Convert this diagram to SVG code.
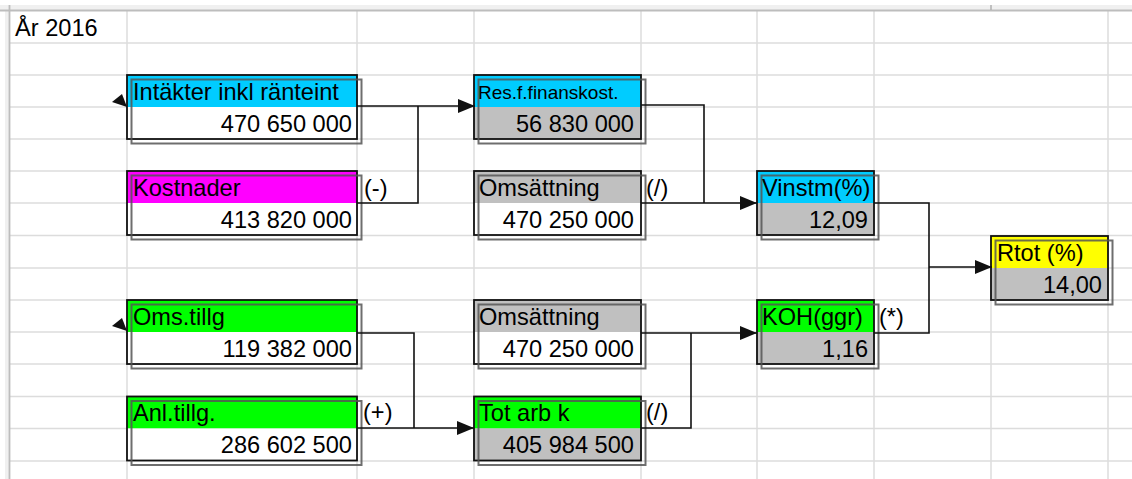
<svg xmlns="http://www.w3.org/2000/svg" width="1132" height="479" viewBox="0 0 1132 479">
<style>
.grid line{stroke:#dcdcdc;stroke-width:1.5}
.frame{fill:none;stroke:#111;stroke-width:1.8}
.shadow{fill:none;stroke:#555;stroke-width:2;opacity:0.85}
.t{font-family:"Liberation Sans",Arial,sans-serif;font-size:23.6px;fill:#000}
.sm{font-size:19px}
.v{text-anchor:end}
.conn{fill:none;stroke:#111;stroke-width:1.6}
.cyan{fill:#00ccff}.mag{fill:#ff00ff}.grn{fill:#00ff00}.yel{fill:#ffff00}.gry{fill:#c0c0c0}.wht{fill:#ffffff}
</style>
<defs>
<marker id="arr" viewBox="0 0 17 14" refX="17" refY="7" markerWidth="17" markerHeight="14" markerUnits="userSpaceOnUse" orient="auto">
<path d="M0,0 L17,7 L0,14 z" fill="#111"/>
</marker>
</defs>
<rect x="0" y="0" width="1132" height="479" fill="#fff"/>
<g id="sheet" class="grid">
<rect x="0" y="5" width="1132" height="5" fill="#f0f0f0" stroke="none"/>
<rect x="5" y="5" width="4.5" height="474" fill="#f0f0f0" stroke="none"/>
<line x1="10" y1="43" x2="1132" y2="43"/>
<line x1="10" y1="75" x2="1132" y2="75"/>
<line x1="10" y1="107" x2="1132" y2="107"/>
<line x1="10" y1="139" x2="1132" y2="139"/>
<line x1="10" y1="171" x2="1132" y2="171"/>
<line x1="10" y1="203" x2="1132" y2="203"/>
<line x1="10" y1="235.5" x2="1132" y2="235.5"/>
<line x1="10" y1="268" x2="1132" y2="268"/>
<line x1="10" y1="300" x2="1132" y2="300"/>
<line x1="10" y1="332" x2="1132" y2="332"/>
<line x1="10" y1="364" x2="1132" y2="364"/>
<line x1="10" y1="396.5" x2="1132" y2="396.5"/>
<line x1="10" y1="428.5" x2="1132" y2="428.5"/>
<line x1="10" y1="461" x2="1132" y2="461"/>
<line x1="127" y1="10" x2="127" y2="479"/>
<line x1="357" y1="10" x2="357" y2="479"/>
<line x1="474" y1="10" x2="474" y2="479"/>
<line x1="641" y1="10" x2="641" y2="479"/>
<line x1="757" y1="10" x2="757" y2="479"/>
<line x1="874" y1="10" x2="874" y2="479"/>
<line x1="991" y1="236" x2="991" y2="479"/>
<line x1="1108" y1="10" x2="1108" y2="479"/>
<line x1="0" y1="10.5" x2="1132" y2="10.5" style="stroke:#bdbdbd;stroke-width:1.8"/>
<line x1="9.5" y1="5" x2="9.5" y2="479" style="stroke:#bdbdbd;stroke-width:1.8"/>
<line x1="991" y1="5" x2="991" y2="10" style="stroke:#b0b0b0;stroke-width:1.5"/>
<text class="t" x="15" y="36">År 2016</text>
</g>
<g id="n-intakter">
<rect class="cyan" x="127" y="75" width="230" height="32"/><rect class="wht" x="127" y="107" width="230" height="32"/>
<rect class="frame" x="127" y="75" width="230" height="64"/><rect class="shadow" x="131.5" y="79.5" width="230" height="64"/>
<text class="t" x="133" y="100">Intäkter inkl ränteint</text><text class="t v" x="352" y="132">470 650 000</text>
<polygon points="112,102 122,94 127,107" fill="#111"/>
</g>
<g id="n-kostnader">
<rect class="mag" x="127" y="171" width="230" height="32"/><rect class="wht" x="127" y="203" width="230" height="32"/>
<rect class="frame" x="127" y="171" width="230" height="64"/><rect class="shadow" x="131.5" y="175.5" width="230" height="64"/>
<text class="t" x="133" y="196">Kostnader</text><text class="t v" x="352" y="228">413 820 000</text>
<text class="t" x="364" y="196">(-)</text>
</g>
<g id="n-resf">
<rect class="cyan" x="474" y="75" width="167" height="32"/><rect class="gry" x="474" y="107" width="167" height="32"/>
<rect class="frame" x="474" y="75" width="167" height="64"/><rect class="shadow" x="478.5" y="79.5" width="167" height="64"/>
<text class="t sm" x="478" y="99">Res.f.finanskost.</text><text class="t v" x="634" y="132">56 830 000</text>
</g>
<g id="n-oms1">
<rect class="gry" x="474" y="171" width="167" height="32"/><rect class="wht" x="474" y="203" width="167" height="32"/>
<rect class="frame" x="474" y="171" width="167" height="64"/><rect class="shadow" x="478.5" y="175.5" width="167" height="64"/>
<text class="t" x="479" y="196">Omsättning</text><text class="t v" x="634" y="228">470 250 000</text>
<text class="t" x="646" y="196">(/)</text>
</g>
<g id="n-vinstm">
<rect class="cyan" x="757" y="171" width="117" height="32"/><rect class="gry" x="757" y="203" width="117" height="32"/>
<rect class="frame" x="757" y="171" width="117" height="64"/><rect class="shadow" x="761.5" y="175.5" width="117" height="64"/>
<text class="t" x="762" y="196">Vinstm(%)</text><text class="t v" x="868" y="228">12,09</text>
</g>
<g id="n-rtot">
<rect class="yel" x="991" y="236" width="117" height="32"/><rect class="gry" x="991" y="268" width="117" height="32"/>
<rect class="frame" x="991" y="236" width="117" height="64"/><rect class="shadow" x="995.5" y="240.5" width="117" height="64"/>
<text class="t" x="997" y="261">Rtot (%)</text><text class="t v" x="1102" y="293">14,00</text>
</g>
<g id="n-koh">
<rect class="grn" x="757" y="300" width="117" height="32"/><rect class="gry" x="757" y="332" width="117" height="32"/>
<rect class="frame" x="757" y="300" width="117" height="64"/><rect class="shadow" x="761.5" y="304.5" width="117" height="64"/>
<text class="t" x="762" y="325">KOH(ggr)</text><text class="t v" x="868" y="357">1,16</text>
<text class="t" x="879" y="325">(*)</text>
</g>
<g id="n-omstillg">
<rect class="grn" x="127" y="300" width="230" height="32"/><rect class="wht" x="127" y="332" width="230" height="32"/>
<rect class="frame" x="127" y="300" width="230" height="64"/><rect class="shadow" x="131.5" y="304.5" width="230" height="64"/>
<text class="t" x="133" y="325">Oms.tillg</text><text class="t v" x="352" y="357">119 382 000</text>
<polygon points="112,326 122,318 127,331" fill="#111"/>
</g>
<g id="n-anltillg">
<rect class="grn" x="127" y="396.5" width="230" height="32"/><rect class="wht" x="127" y="428.5" width="230" height="32"/>
<rect class="frame" x="127" y="396.5" width="230" height="64"/><rect class="shadow" x="131.5" y="401" width="230" height="64"/>
<text class="t" x="133" y="421">Anl.tillg.</text><text class="t v" x="352" y="453">286 602 500</text>
<text class="t" x="363" y="420">(+)</text>
</g>
<g id="n-oms2">
<rect class="gry" x="474" y="300" width="167" height="32"/><rect class="wht" x="474" y="332" width="167" height="32"/>
<rect class="frame" x="474" y="300" width="167" height="64"/><rect class="shadow" x="478.5" y="304.5" width="167" height="64"/>
<text class="t" x="479" y="325">Omsättning</text><text class="t v" x="634" y="357">470 250 000</text>
</g>
<g id="n-totarbk">
<rect class="grn" x="474" y="396.5" width="167" height="32"/><rect class="gry" x="474" y="428.5" width="167" height="32"/>
<rect class="frame" x="474" y="396.5" width="167" height="64"/><rect class="shadow" x="478.5" y="401" width="167" height="64"/>
<text class="t" x="479" y="421">Tot arb k</text><text class="t v" x="634" y="453">405 984 500</text>
<text class="t" x="646" y="420">(/)</text>
</g>
<g id="connectors">
<polyline class="conn" points="357,106 475,106" marker-end="url(#arr)"/>
<polyline class="conn" points="357,203 418,203 418,106"/>
<polyline class="conn" points="641,105 704,105 704,203"/>
<polyline class="conn" points="641,203 757,203" marker-end="url(#arr)"/>
<polyline class="conn" points="874,203 929,203 929,333 874,333"/>
<polyline class="conn" points="929,267 992,267" marker-end="url(#arr)"/>
<polyline class="conn" points="357,333 414,333 414,428"/>
<polyline class="conn" points="357,428 474,428" marker-end="url(#arr)"/>
<polyline class="conn" points="641,333 757,333" marker-end="url(#arr)"/>
<polyline class="conn" points="641,428 691,428 691,333"/>
</g>
</svg>
